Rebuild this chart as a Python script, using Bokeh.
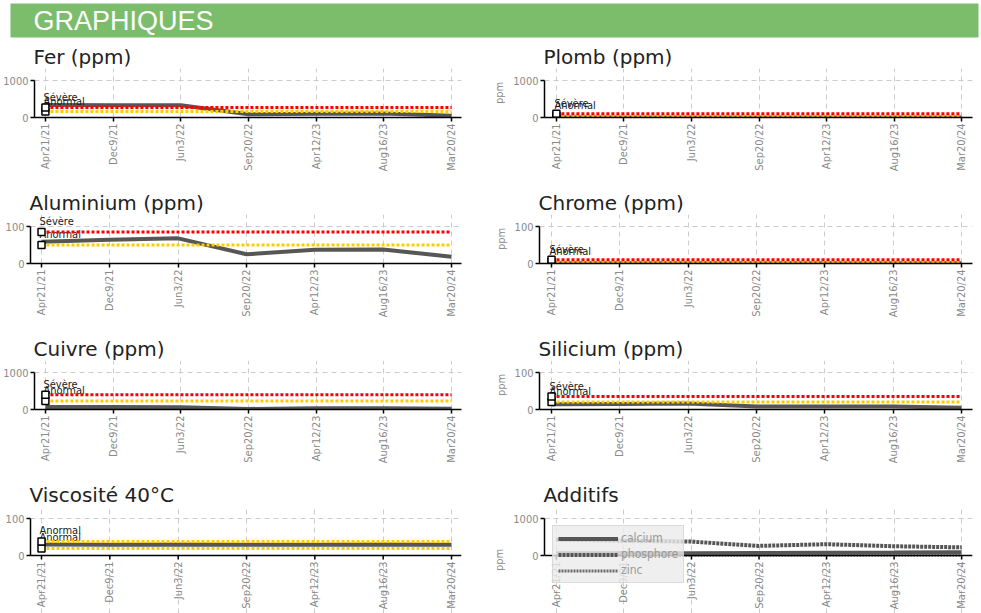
import math
from bokeh.plotting import figure
from bokeh.models import Range1d, FixedTicker, Label, Legend, LegendItem, Span
from bokeh.layouts import column, row
from bokeh.embed import file_html
from bokeh.resources import INLINE
from bokeh.core.properties import value

# ---------------- data ----------------
dates = ["Apr21/21", "Dec9/21", "Jun3/22", "Sep20/22", "Apr12/23", "Aug16/23", "Mar20/24"]

fer = [340, 330, 330, 90, 100, 110, 50]
fer_anormal = 160
fer_severe = 270

plomb = [4, 3, 3, 2, 2, 2, 1]
plomb_anormal = 50
plomb_severe = 100

aluminium = [59, 64, 68, 25, 37, 38, 18]
aluminium_anormal = 50
aluminium_severe = 85

chrome = [1, 1, 1, 1, 1, 1, 1]
chrome_anormal = 5
chrome_severe = 10

cuivre = [70, 65, 60, 15, 35, 35, 20]
cuivre_anormal = 230
cuivre_severe = 400

silicium = [14, 15, 16, 8, 8, 8, 5]
silicium_anormal = 20
silicium_severe = 35

viscosite = [30, 29, 30, 29, 29, 30, 29]
viscosite_anormal_haut = 38
viscosite_anormal_bas = 19

calcium = [60, 60, 62, 70, 75, 80, 90]
phosphore = [430, 400, 375, 260, 305, 250, 220]
zinc = [12, 10, 10, 8, 8, 8, 6]

x_idx = list(range(len(dates)))

NARROW = "Liberation Sans Narrow, DejaVu Sans Condensed, sans-serif"
GREY = "#4d4d4d"
RED = "#ff0000"
YELLOW = "#ffcc00"
LABEL_GREY = "#8a8a8a"

DATA_PX = 37      # pixel height of the 0..max band
PAD_PX = 12       # extra frame above the max line (room for labels)
TOP = 30          # border above the frame (title)
TICK_PX = 4


def make_panel(title, left, ymax, height, below_px=0, ylabel=None):
    if left:
        w, bl, br, xr, toff = 490, 30, 29, (-0.161, 6.146), -1
    else:
        w, bl, br, xr, toff = 491, 49, 9, (-0.176, 6.161), -1
    y_end = ymax * (DATA_PX + PAD_PX) / DATA_PX
    y_start = -ymax * below_px / DATA_PX
    frame_h = DATA_PX + PAD_PX + below_px
    bottom = height - TOP - frame_h
    p = figure(width=w, height=height, output_backend="svg", toolbar_location=None,
               x_range=Range1d(*xr), y_range=Range1d(y_start, y_end),
               min_border_left=bl, min_border_right=br, min_border_top=TOP,
               min_border_bottom=bottom, title=title)
    p.title.text_font = "DejaVu Sans"
    p.title.text_font_size = "20px"
    p.title.text_font_style = "normal"
    p.title.text_color = "#222222"
    p.title.offset = toff
    p.title.standoff = 0
    p.outline_line_color = None
    p.background_fill_color = "white"
    p.border_fill_color = "white"

    p.xaxis.ticker = FixedTicker(ticks=x_idx)
    p.xaxis.major_label_overrides = {i: d for i, d in zip(x_idx, dates)}
    p.xaxis.major_label_orientation = math.pi / 2
    p.yaxis.ticker = FixedTicker(ticks=[0, ymax])
    p.yaxis.bounds = (0, ymax)
    for ax in (p.xaxis, p.yaxis):
        ax.axis_line_color = "black"
        ax.axis_line_width = 1.5
        ax.major_tick_line_color = "black"
        ax.major_tick_line_width = 1.5
        ax.major_tick_out = TICK_PX
        ax.major_tick_in = 0
        ax.minor_tick_line_color = None
        ax.major_label_text_font = NARROW
        ax.major_label_text_color = LABEL_GREY
        ax.major_label_standoff = 2
    p.xaxis.major_label_text_font_size = "11px"
    p.yaxis.major_label_text_font_size = "11px"
    if below_px:
        # x axis drawn inside an extended frame (so the legend may overlap its labels)
        p.xaxis.visible = False
        p.add_layout(Span(location=0, dimension="width", line_color="black", line_width=1.5))
        p.segment(x_idx, [0] * len(x_idx), x_idx, [-ymax * TICK_PX / DATA_PX] * len(x_idx),
                  line_color="black", line_width=1.5)
        p.text(x_idx, [0] * len(x_idx), text=dates, angle=math.pi / 2,
               y_offset=TICK_PX + 2, text_align="right", text_baseline="middle",
               text_font=value(NARROW), text_font_size="11px", text_color=LABEL_GREY)
    if ylabel:
        p.yaxis.axis_label = ylabel
        p.yaxis.axis_label_text_font = NARROW
        p.yaxis.axis_label_text_font_size = "11px"
        p.yaxis.axis_label_text_font_style = "normal"
        p.yaxis.axis_label_text_color = LABEL_GREY
        p.yaxis.axis_label_standoff = 4

    p.xgrid.ticker = FixedTicker(ticks=x_idx)
    p.xgrid.bounds = (0, ymax)
    p.ygrid.ticker = FixedTicker(ticks=[0, ymax])
    p.grid.grid_line_color = "#cccccc"
    p.grid.grid_line_dash = "5 4"
    p.grid.grid_line_width = 1
    return p


def add_series(p, vals):
    p.line(x_idx, vals, line_color=GREY, line_width=4, line_alpha=0.95)


def add_threshold(p, val, color, label):
    p.line(x_idx, [val] * len(x_idx), line_color=color, line_width=3, line_dash="3 2")
    p.scatter(x_idx[:1], [val], marker="square", size=7, fill_color="white",
              line_color="black", line_width=1.5)
    p.text(x_idx[:1], [val], text=[label], x_offset=-2, y_offset=-4,
           text_align="left", text_baseline="bottom", text_font=value(NARROW),
           text_font_size="11px", text_color="#1a1a1a")


H = 146
HL = 137
BELOW = HL - TOP - DATA_PX - PAD_PX

# header
header = figure(width=981, height=38, output_backend="svg", toolbar_location=None,
                x_range=Range1d(0, 1), y_range=Range1d(0, 1),
                min_border_left=10, min_border_right=3,
                min_border_top=3, min_border_bottom=1)
header.axis.visible = False
header.grid.visible = False
header.outline_line_color = None
header.background_fill_color = "#7bbd6b"
header.border_fill_color = "white"
header.add_layout(Label(x=23, y=0.5, x_units="screen", y_units="data", text="GRAPHIQUES",
                        text_font="Liberation Sans", text_font_size="27px",
                        text_color="white", text_baseline="middle"))

# Fer
p_fer = make_panel("Fer (ppm)", True, 1000, H)
add_series(p_fer, fer)
add_threshold(p_fer, fer_anormal, YELLOW, "Anormal")
add_threshold(p_fer, fer_severe, RED, "Sévère")

# Plomb
p_plomb = make_panel("Plomb (ppm)", False, 1000, H, ylabel="ppm")
add_series(p_plomb, plomb)
add_threshold(p_plomb, plomb_anormal, YELLOW, "Anormal")
add_threshold(p_plomb, plomb_severe, RED, "Sévère")

# Aluminium
p_alu = make_panel("Aluminium (ppm)", True, 100, H)
add_series(p_alu, aluminium)
add_threshold(p_alu, aluminium_anormal, YELLOW, "Anormal")
add_threshold(p_alu, aluminium_severe, RED, "Sévère")

# Chrome
p_chrome = make_panel("Chrome (ppm)", False, 100, H, ylabel="ppm")
add_series(p_chrome, chrome)
add_threshold(p_chrome, chrome_anormal, YELLOW, "Anormal")
add_threshold(p_chrome, chrome_severe, RED, "Sévère")

# Cuivre
p_cu = make_panel("Cuivre (ppm)", True, 1000, H)
add_series(p_cu, cuivre)
add_threshold(p_cu, cuivre_anormal, YELLOW, "Anormal")
add_threshold(p_cu, cuivre_severe, RED, "Sévère")

# Silicium
p_si = make_panel("Silicium (ppm)", False, 100, H, ylabel="ppm")
add_series(p_si, silicium)
add_threshold(p_si, silicium_anormal, YELLOW, "Anormal")
add_threshold(p_si, silicium_severe, RED, "Sévère")

# Viscosité (same extended-frame geometry as its row neighbour)
p_visc = make_panel("Viscosité 40°C", True, 100, HL, below_px=BELOW)
add_series(p_visc, viscosite)
add_threshold(p_visc, viscosite_anormal_bas, YELLOW, "Anormal")
add_threshold(p_visc, viscosite_anormal_haut, YELLOW, "Anormal")

# Additifs (frame extended below the axis so the legend can overlap the labels)
p_add = make_panel("Additifs", False, 1000, HL, below_px=BELOW, ylabel="ppm")
r_ca = p_add.line(x_idx, calcium, line_color="#555555", line_width=4)
r_p = p_add.line(x_idx, phosphore, line_color="#555555", line_width=4, line_dash="3 1")
r_zn = p_add.line(x_idx, zinc, line_color="#6a6a6a", line_width=3, line_dash="2 1")
legend = Legend(items=[LegendItem(label="calcium", renderers=[r_ca]),
                       LegendItem(label="phosphore", renderers=[r_p]),
                       LegendItem(label="zinc", renderers=[r_zn])],
                location=(8, 30), orientation="vertical",
                glyph_width=60, glyph_height=13, label_height=13, spacing=2,
                padding=5, margin=0, label_standoff=3,
                label_text_font=NARROW, label_text_font_size="12px",
                label_text_color="#999999",
                background_fill_color="#ebebeb", background_fill_alpha=0.8,
                border_line_color="#c8c8c8", border_line_width=1)
p_add.add_layout(legend)

layout = column(header,
                row(p_fer, p_plomb),
                row(p_alu, p_chrome),
                row(p_cu, p_si),
                row(p_visc, p_add))

open("out.html", "w").write(file_html(layout, INLINE))
